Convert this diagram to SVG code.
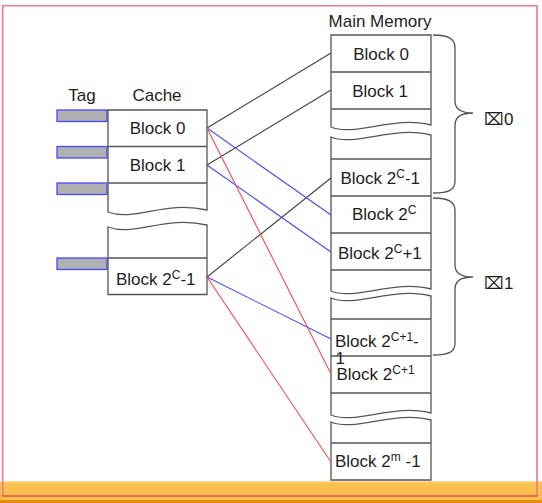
<svg xmlns="http://www.w3.org/2000/svg" width="542" height="503" viewBox="0 0 542 503">
<style>
text{font-family:"Liberation Sans",Arial,sans-serif;font-size:17px;fill:#1e1e1e}
.sup{font-size:12px}
.box{fill:#fff;stroke:#555;stroke-width:1.3}
.div{stroke:#555;stroke-width:1.3}
.tag{fill:#b0b0b0;stroke:#4848ff;stroke-width:1.3}
.brace{fill:none;stroke:#555;stroke-width:1.3}
.k{stroke:#404040;stroke-width:1.1}
.b{stroke:#4848ff;stroke-width:1.1}
.r{stroke:#ff4848;stroke-width:1.1}
</style>
<rect x="0" y="0" width="542" height="503" fill="#fff"/>
<g id="footer">
<rect x="0" y="481" width="542" height="22" fill="#fac050"/>
<rect x="0" y="481" width="542" height="1.5" fill="#fcd890"/>
<rect x="0" y="500" width="542" height="3" fill="#e88a10"/>
</g>
<g id="frame">
<path d="M2.7,496 V5.7 H537 V496" fill="none" stroke="#f07888" stroke-width="1.6"/>
<line x1="2" y1="496" x2="538" y2="496" stroke="#f04848" stroke-width="1.3"/>
</g>
<g id="labels">
<text x="82" y="101" text-anchor="middle">Tag</text>
<text x="157" y="101" text-anchor="middle">Cache</text>
<text x="380" y="27" text-anchor="middle">Main Memory</text>
</g>
<g id="tags">
<rect class="tag" x="57" y="110" width="50" height="11.5"/>
<rect class="tag" x="57" y="146.5" width="50" height="11.5"/>
<rect class="tag" x="57" y="183" width="50" height="11.5"/>
<rect class="tag" x="57" y="258" width="50" height="11.5"/>
</g>
<g id="cache">
<path class="box" d="M108,110 H207 V210 C165,200 135,222 108,212 Z"/>
<line class="div" x1="108" y1="146.5" x2="207" y2="146.5"/>
<line class="div" x1="108" y1="183" x2="207" y2="183"/>
<path class="box" d="M108,227 C135,237 165,215 207,225 V294.5 H108 Z"/>
<line class="div" x1="108" y1="258" x2="207" y2="258"/>
</g>
<g id="cache-block-0"><text x="157.5" y="133.5" text-anchor="middle">Block 0</text></g>
<g id="cache-block-1"><text x="157.5" y="170.5" text-anchor="middle">Block 1</text></g>
<g id="cache-block-2c-1"><text x="116" y="285">Block 2<tspan class="sup" dy="-6">C</tspan><tspan dy="6">-1</tspan></text></g>
<g id="main-memory">
<path class="box" d="M331,35 H431 V125 C395,115 355,137 331,127 Z"/>
<line class="div" x1="331" y1="72" x2="431" y2="72"/>
<line class="div" x1="331" y1="109" x2="431" y2="109"/>
<path class="box" d="M331,137 C355,147 395,125 431,135 V289 C395,279 355,301 331,291 Z"/>
<line class="div" x1="331" y1="159" x2="431" y2="159"/>
<line class="div" x1="331" y1="196" x2="431" y2="196"/>
<line class="div" x1="331" y1="233" x2="431" y2="233"/>
<line class="div" x1="331" y1="270" x2="431" y2="270"/>
<path class="box" d="M331,298 C355,308 395,286 431,296 V413 C395,403 355,425 331,415 Z"/>
<line class="div" x1="331" y1="319" x2="431" y2="319"/>
<line class="div" x1="331" y1="356" x2="431" y2="356"/>
<line class="div" x1="331" y1="393" x2="431" y2="393"/>
<path class="box" d="M331,422 C355,432 395,410 431,420 V480 H331 Z"/>
<line class="div" x1="331" y1="443" x2="431" y2="443"/>
</g>
<g id="mem-block-0"><text x="381" y="59.5" text-anchor="middle">Block 0</text></g>
<g id="mem-block-1"><text x="380" y="96.5" text-anchor="middle">Block 1</text></g>
<g id="mem-block-2c-1"><text x="340.5" y="183.5">Block 2<tspan class="sup" dy="-6">C</tspan><tspan dy="6">-1</tspan></text></g>
<g id="mem-block-2c"><text x="352" y="219.5">Block 2<tspan class="sup" dy="-6">C</tspan></text></g>
<g id="mem-block-2c+1"><text x="338" y="259">Block 2<tspan class="sup" dy="-6">C</tspan><tspan dy="6">+1</tspan></text></g>
<g id="mem-block-2c1-1"><text x="335" y="346.5">Block 2<tspan class="sup" dy="-6">C+1</tspan><tspan dy="6">-</tspan></text><text x="335.5" y="364">1</text></g>
<g id="mem-block-2c1"><text x="336.5" y="380">Block 2<tspan class="sup" dy="-6">C+1</tspan></text></g>
<g id="mem-block-2m-1"><text x="335" y="466.5">Block 2<tspan class="sup" dy="-6">m</tspan><tspan dy="6"> -1</tspan></text></g>
<g id="brace-0">
<path class="brace" d="M433,35 C449,35 455,39 455,48 V101 C455,109 461,113 473,113 C461,113 455,117 455,125 V181 C455,190 449,193 433,193"/>
<text x="484" y="125">⌧0</text>
</g>
<g id="brace-1">
<path class="brace" d="M433,198 C449,198 455,202 455,211 V265 C455,273 461,277 473,277 C461,277 455,281 455,289 V343 C455,352 449,355 433,355"/>
<text x="484" y="289">⌧1</text>
</g>
<g id="connectors">
<line class="k" x1="207" y1="128" x2="331" y2="53"/>
<line class="k" x1="207" y1="165" x2="331" y2="90"/>
<line class="k" x1="207" y1="277" x2="331" y2="178"/>
<line class="b" x1="207" y1="128" x2="331" y2="215"/>
<line class="b" x1="207" y1="165" x2="331" y2="252"/>
<line class="b" x1="207" y1="277" x2="331" y2="339"/>
<line class="r" x1="207" y1="128" x2="331" y2="374"/>
<line class="r" x1="207" y1="277" x2="331" y2="462"/>
</g>
</svg>
